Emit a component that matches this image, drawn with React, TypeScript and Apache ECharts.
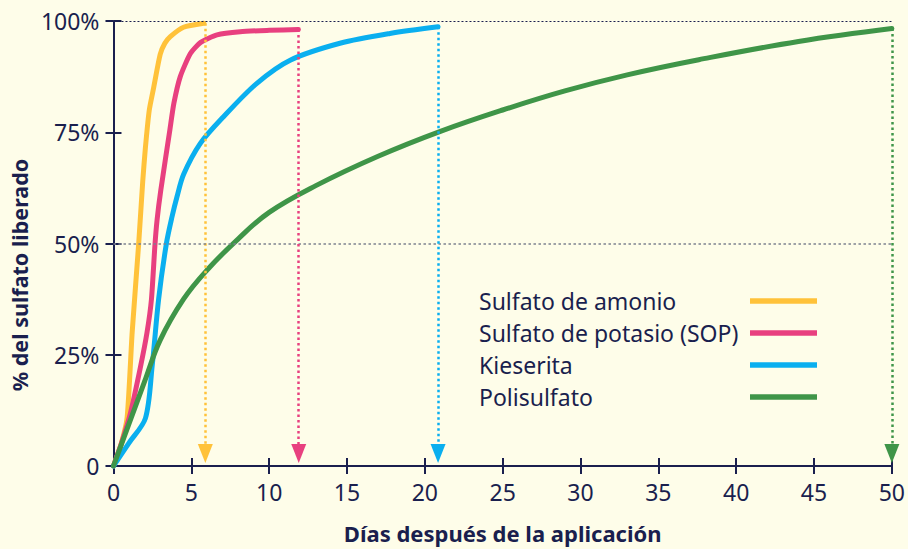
import React, { useEffect, useRef } from 'react';
import * as echarts from 'echarts';

const seriesNames = ['Sulfato de amonio', 'Sulfato de potasio (SOP)', 'Kieserita', 'Polisulfato'];
const seriesColors = ['#FFC23A', '#E8407F', '#0AAFEF', '#3F9548'];

const amonioDays = [0, 0.5, 0.88, 1.2, 1.62, 1.88, 2.05, 2.3, 2.58, 3, 3.3, 3.65, 4.5, 5.8];
const amonioPct = [0, 5, 11, 30, 50, 64, 71.5, 80, 85, 92.5, 95, 96.5, 98.6, 99.5];

const sopDays = [0, 0.5, 1.09, 1.73, 2.15, 2.44, 2.66, 2.8, 3.04, 3.62, 3.88, 4.29, 4.94, 5.6, 6.65, 8.14, 10, 11.88];
const sopPct = [0, 5, 11.9, 22.2, 29.9, 37.5, 49.5, 55.3, 62, 75.5, 81.5, 87.5, 92.7, 95.2, 96.9, 97.6, 97.9, 98.1];

const kieseritaDays = [0, 1, 2.05, 2.48, 2.9, 3.4, 3.76, 4.08, 4.5, 5.58, 7.07, 9.21, 11.35, 14.55, 17.76, 20.85];
const kieseritaPct = [0, 5.2, 10.7, 22.3, 37.5, 50, 56, 60.5, 65.5, 72.5, 78.5, 86, 91.2, 95, 97.2, 98.7];

const polisulfatoDays = [0, 1, 2, 3, 4.5, 6, 8, 10, 13, 17, 21, 25, 29, 33, 37.6, 44, 50];
const polisulfatoPct = [0, 9.5, 19, 28.3, 37.5, 44, 51, 57, 63, 69.6, 75.2, 80, 84.3, 87.9, 91.3, 95.4, 98.3];

const arrowDays = [5.9, 11.9, 20.85, 50];
const arrowPct = 2.8;

const seriesDays = [amonioDays, sopDays, kieseritaDays, polisulfatoDays];
const seriesPct = [amonioPct, sopPct, kieseritaPct, polisulfatoPct];
const smoothness = [0.2, 0.2, 0.3, 0.4];

const gridLineValues = [100, 50];

const NAVY = '#1A1F4E';
const FONT = '"Noto Sans", "Open Sans", sans-serif';

export default function App() {
  const ref = useRef<HTMLDivElement>(null);
  useEffect(() => {
    if (!ref.current) return;
    const chart = echarts.init(ref.current, null, { renderer: 'svg' });
    const rich: any = {
      t: { width: 271, fontSize: 23, fontFamily: FONT, color: NAVY, lineHeight: 24, verticalAlign: 'middle' },
    };
    seriesColors.forEach((c, i) => {
      rich['k' + i] = { width: 67, height: 5.5, backgroundColor: c, verticalAlign: 'middle' };
    });

    const series: any[] = seriesNames.map((name, i) => {
      const days = seriesDays[i];
      const pct = seriesPct[i];
      const last = pct[pct.length - 1];
      const markLineData: any[] = [
        [
          { coord: [arrowDays[i], last], lineStyle: { color: seriesColors[i], width: 2.5, type: [2.5, 3] } },
          { coord: [arrowDays[i], arrowPct] },
        ],
      ];
      if (i === 0) {
        markLineData.push({ yAxis: gridLineValues[0], lineStyle: { color: NAVY, width: 1, type: [2, 2] } });
        markLineData.push({ yAxis: gridLineValues[1], lineStyle: { color: '#7D8290', width: 1.5, type: [2.5, 2.5] } });
      }
      return {
        name,
        type: 'line',
        xAxisIndex: 0,
        yAxisIndex: 0,
        data: days.map((d, j) => [d, pct[j]]),
        smooth: smoothness[i],
        symbol: 'none',
        clip: false,
        color: seriesColors[i],
        lineStyle: { color: seriesColors[i], width: 5, cap: 'round', join: 'round' },
        markLine: {
          silent: true,
          symbol: ['none', 'none'],
          label: { show: false },
          data: markLineData,
        },
        markPoint: {
          silent: true,
          symbol: 'triangle',
          symbolRotate: 180,
          symbolSize: [15, 19],
          itemStyle: { color: seriesColors[i] },
          label: { show: false },
          data: [{ coord: [arrowDays[i], arrowPct] }],
        },
      };
    });

    const axisLineStyle = { color: NAVY, width: 2 };
    chart.setOption({
      animation: false,
      backgroundColor: '#FEFDE9',
      textStyle: { fontFamily: FONT },
      grid: { left: 113, right: 15, top: 21, bottom: 83, containLabel: false },
      legend: {
        data: seriesNames,
        orient: 'vertical',
        left: 474,
        top: 289,
        padding: 0,
        itemWidth: 0,
        itemHeight: 0,
        itemGap: 8,
        icon: 'none',
        selectedMode: false,
        formatter: (name: string) => `{t|${name}}{k${seriesNames.indexOf(name)}|}`,
        textStyle: { color: NAVY, fontSize: 23, fontFamily: FONT, lineHeight: 24, rich },
      },
      xAxis: [
        {
          type: 'value', min: 0, max: 50, interval: 5, position: 'bottom',
          axisLine: { show: true, onZero: false, lineStyle: axisLineStyle },
          axisTick: { show: true, length: 8, lineStyle: axisLineStyle },
          axisLabel: { color: NAVY, fontSize: 23, fontFamily: FONT, margin: 14 },
          splitLine: { show: false },
          name: 'Días después de la aplicación',
          nameLocation: 'middle',
          nameGap: 56,
          nameTextStyle: { color: NAVY, fontSize: 22, fontWeight: 'bold', fontFamily: FONT },
        },
        {
          type: 'value', min: 0, max: 50, interval: 5, position: 'bottom',
          axisLine: { show: false },
          axisTick: { show: true, inside: true, length: 8, lineStyle: axisLineStyle },
          axisLabel: { show: false },
          splitLine: { show: false },
        },
      ],
      yAxis: [
        {
          type: 'value', min: 0, max: 100, interval: 25, position: 'left',
          axisLine: { show: true, onZero: false, lineStyle: axisLineStyle },
          axisTick: { show: true, length: 8, lineStyle: axisLineStyle },
          axisLabel: {
            color: NAVY, fontSize: 23, fontFamily: FONT, margin: 14,
            formatter: (v: number) => (v === 0 ? '0' : v + '%'),
          },
          splitLine: { show: false },
          name: '% del sulfato liberado',
          nameLocation: 'middle',
          nameGap: 78,
          nameTextStyle: {
            color: NAVY, fontSize: 21.5, fontWeight: 'bold', fontFamily: FONT,
            padding: [0, 63, 0, 0],
          },
        },
        {
          type: 'value', min: 0, max: 100, interval: 25, position: 'left',
          axisLine: { show: false },
          axisTick: { show: true, inside: true, length: 8, lineStyle: axisLineStyle },
          axisLabel: { show: false },
          splitLine: { show: false },
        },
      ],
      series,
    });
    return () => chart.dispose();
  }, []);
  return (
    <div
      ref={ref}
      style={{ position: 'fixed', left: 0, top: 0, width: 908, height: 549, background: '#FEFDE9' }}
    />
  );
}
